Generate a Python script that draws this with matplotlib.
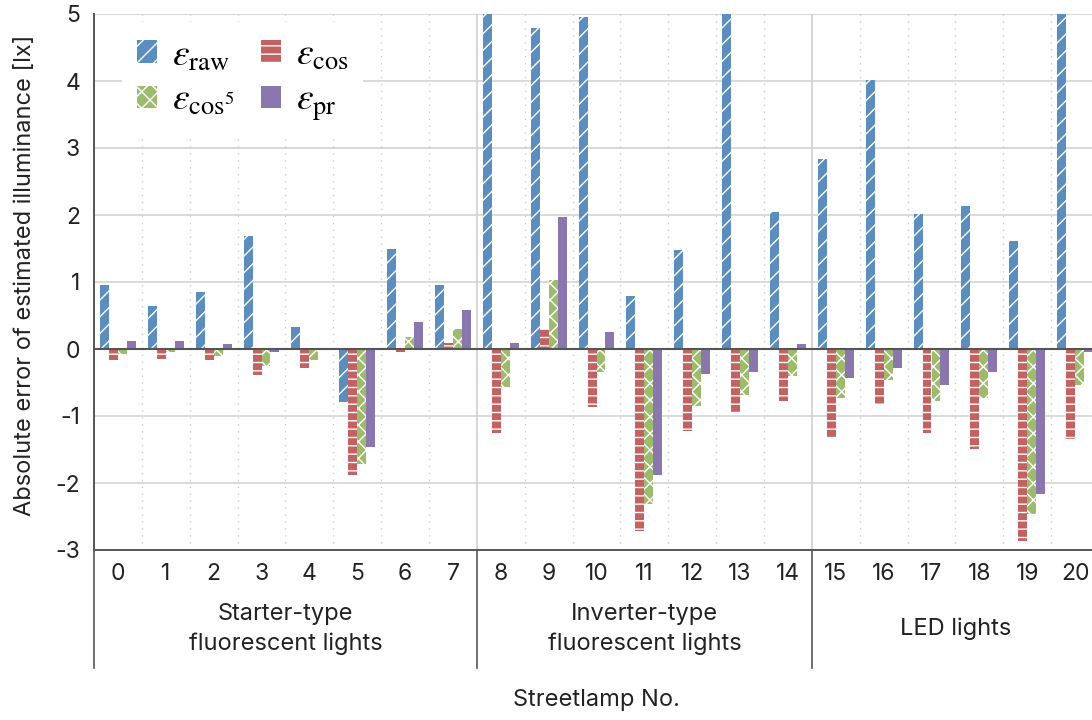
import numpy as np
import matplotlib
matplotlib.use("Agg")
import matplotlib.pyplot as plt
from matplotlib.patches import Patch
import matplotlib.transforms as mtransforms

plt.rcParams['font.family'] = ['Inter', 'DejaVu Sans']
plt.rcParams['mathtext.fontset'] = 'stix'
plt.rcParams['hatch.linewidth'] = 1.0

lamps = [str(i) for i in range(21)]
e_raw = [0.95, 0.64, 0.85, 1.68, 0.33, -0.79, 1.50, 0.95, 6.0, 4.79, 4.96, 0.79,
         1.48, 6.5, 2.04, 2.84, 4.01, 2.02, 2.14, 1.61, 6.2]
e_cos = [-0.17, -0.15, -0.17, -0.39, -0.28, -1.88, -0.04, 0.09, -1.26, 0.30, -0.87, -2.71,
         -1.23, -0.96, -0.77, -1.31, -0.82, -1.26, -1.49, -2.86, -1.34]
e_cos5 = [-0.07, -0.04, -0.10, -0.25, -0.17, -1.72, 0.18, 0.30, -0.56, 1.03, -0.35, -2.32,
          -0.85, -0.68, -0.40, -0.73, -0.46, -0.78, -0.73, -2.47, -0.53]
e_pr = [0.12, 0.12, 0.075, -0.04, 0.015, -1.46, 0.40, 0.58, 0.09, 1.97, 0.25, -1.88,
        -0.38, -0.35, 0.075, -0.43, -0.29, -0.53, -0.35, -2.16, -0.04]
groups = ["Starter-type\nfluorescent lights", "Inverter-type\nfluorescent lights", "LED lights"]
group_bounds = [(-0.5, 7.5), (7.5, 14.5), (14.5, 20.5)]
series_labels = [r'$\varepsilon_{\mathrm{raw}}$', r'$\varepsilon_{\mathrm{cos}}$',
                 r'$\varepsilon_{\mathrm{cos^5}}$', r'$\varepsilon_{\mathrm{pr}}$']

colors = ['#5b8dbe', '#c36262', '#9dbb6c', '#8a77ad']
hatches = ['//', '--', 'xx', '']

fig = plt.figure(figsize=(10.92, 7.2), dpi=100)
W, H = 1092, 720
ax = fig.add_axes([94 / W, (H - 550) / H, (1099 - 94) / W, (550 - 14) / H])

x = np.arange(len(lamps))
bw = 0.188
offs = np.array([-1.5, -0.5, 0.5, 1.5]) * bw
handles = []
for s, (vals, c, h, lab) in enumerate(zip([e_raw, e_cos, e_cos5, e_pr], colors, hatches, series_labels)):
    ax.bar(x + offs[s], vals, width=bw, color=c, hatch=h, edgecolor='white', linewidth=0, zorder=3)
    handles.append(Patch(facecolor=c, hatch=h, edgecolor='white', linewidth=0, label=lab))

ax.set_xlim(-0.5, 20.5)
ax.set_ylim(-3, 5)
ax.set_yticks(range(-3, 6))
ax.set_yticklabels([str(v) for v in range(-3, 6)])
ax.set_xticks(x)
ax.set_xticklabels(lamps)
ax.tick_params(axis='both', length=0, labelsize=16.5, colors='#222222')
ax.tick_params(axis='x', pad=9)
ax.tick_params(axis='y', pad=10)

# grid
for yv in range(-3, 6):
    ax.axhline(yv, color='#d9d9d9', lw=1.4, zorder=1)
for k in range(20):
    xb = k + 0.5
    if xb in (7.5, 14.5):
        ax.axvline(xb, color='#d0d0d0', lw=1.2, zorder=1)
    else:
        ax.axvline(xb, color='#cccccc', lw=1.0, ls=(0, (1, 4)), zorder=1)
ax.axhline(0, color='#555555', lw=1.5, zorder=4)

for sp in ['top', 'right']:
    ax.spines[sp].set_visible(False)
ax.spines['left'].set_color('#555555')
ax.spines['left'].set_linewidth(1.4)
ax.spines['bottom'].set_color('#555555')
ax.spines['bottom'].set_linewidth(1.4)
ax.spines['bottom'].set_zorder(5)

trans = mtransforms.blended_transform_factory(ax.transData, ax.transAxes)
ylow = (550 - 668) / 536
for xb in (-0.5, 7.5, 14.5):
    ax.plot([xb, xb], [0, ylow], transform=trans, color='#555555', lw=1.2, clip_on=False)
for (a, b), g in zip(group_bounds, groups):
    ax.text((a + b) / 2, (550 - 629) / 536, g, transform=trans, ha='center', va='center',
            fontsize=17, color='#222222', linespacing=1.4)

ax.text(0.5, (550 - 700) / 536, 'Streetlamp No.', transform=ax.transAxes, ha='center',
        va='center', fontsize=17, color='#222222')
fig.text(25 / W, (H - 275) / H, 'Absolute error of estimated illuminance [lx]', rotation=90,
         ha='center', va='center', fontsize=17, color='#222222')

order = [0, 2, 1, 3]
leg = ax.legend([handles[i] for i in order], [series_labels[i] for i in order], ncol=2,
                loc='upper left', bbox_to_anchor=(103 / W, (H - 3) / H),
                bbox_transform=fig.transFigure, frameon=True, fontsize=27,
                handlelength=0.53, handleheight=0.53, handletextpad=0.4, columnspacing=0.72,
                labelspacing=0.25, borderpad=0.4)
leg.get_frame().set_facecolor('white')
leg.get_frame().set_edgecolor('none')
leg.get_frame().set_alpha(1)
leg.set_zorder(6)

fig.savefig('out.png', dpi=100)
